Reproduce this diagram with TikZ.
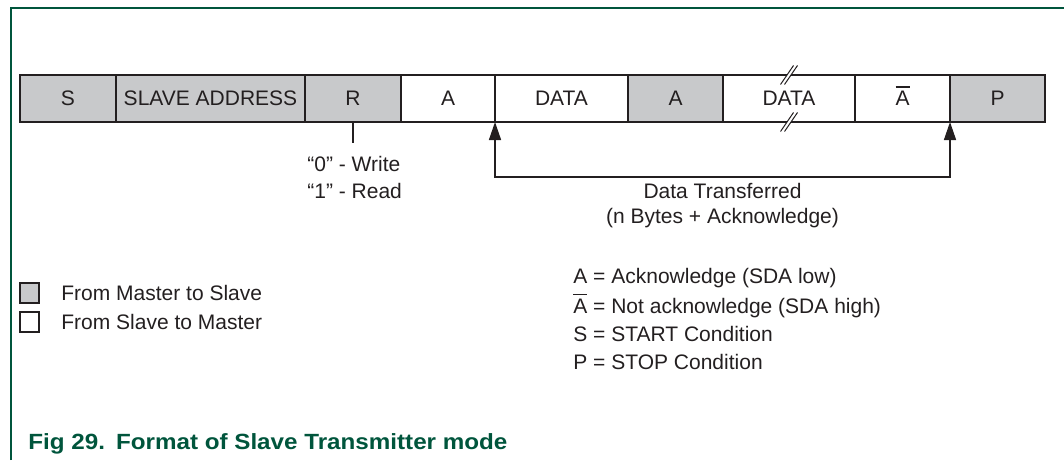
\documentclass[tikz,border=0pt]{standalone}
\usepackage{fontspec}
\setmainfont{Liberation Sans}
\newfontfamily\capfont[FakeStretch=1.1]{Liberation Sans}
\usetikzlibrary{positioning,arrows.meta}
\definecolor{ink}{RGB}{35,31,32}
\definecolor{mgray}{RGB}{200,201,203}
\definecolor{nxpgreen}{RGB}{0,85,60}
\newcommand\notA{\rlap{\smash{\rule[9pt]{7pt}{0.7pt}}}A}
\tikzset{
  txt/.style={inner sep=0pt, text=ink, font=\fontsize{10.5pt}{13pt}\selectfont},
  fld/.style={txt, draw=ink, line width=1pt, minimum height=23.5pt, outer sep=0pt},
  uptip/.style={{Triangle[width=6pt,length=9pt]}-{Triangle[width=6pt,length=9pt]}}
}

\begin{document}
\begin{tikzpicture}[x=0.5pt, y=-0.5pt]
\useasboundingbox (0,0) rectangle (1064,460);
\draw [nxpgreen, line width=0.8pt] (11,460) -- (11,8) -- (1064,8);

\node [fld, fill=mgray, minimum width=48pt] (s) at (68,98.5) {S};
\node [fld, fill=mgray, minimum width=94.5pt, right=0pt of s] (addr) {SLAVE ADDRESS};
\node [fld, fill=mgray, minimum width=48pt, right=0pt of addr] (rw) {R};
\node [fld, minimum width=47pt, right=0pt of rw] (ack1) {A};
\node [fld, minimum width=66.5pt, right=0pt of ack1] (data1) {DATA};
\node [fld, fill=mgray, minimum width=47.5pt, right=0pt of data1] (ack2) {A};
\node [fld, minimum width=66pt, right=0pt of ack2] (data2) {DATA};
\node [fld, minimum width=47.5pt, right=0pt of data2] (nack) {\notA};
\node [fld, fill=mgray, minimum width=47.5pt, right=0pt of nack] (p) {P};

\foreach \a in {north,south} {
  \draw [white, line width=1.4pt] (data2.\a) +(-6.5,8.5) -- +(6.5,-8.5);
  \draw [ink, line width=0.5pt] (data2.\a) +(-8.5,9.5) -- +(4.5,-9.5);
  \draw [ink, line width=0.5pt] (data2.\a) +(-4.5,9.5) -- +(8.5,-9.5);
}

\draw [ink, line width=0.75pt] (rw.south) -- ++(0,21);
\node [txt, anchor=base west] (wr0) at (307,171) {“0” - Write};
\node [txt, anchor=base west] (wr1) at (307,198) {“1” - Read};

\draw [uptip, ink, line width=0.75pt] (data1.south west) -- ++(0,55) -| (p.south west);
\node [txt, anchor=base] (dt0) at (722.5,198) {Data Transferred};
\node [txt, anchor=base] (dt1) at (722.5,223) {(n Bytes + Acknowledge)};

\node [fld, fill=mgray, minimum width=9.5pt, minimum height=10pt, line width=0.8pt] (km) at (29.5,293) {};
\node [fld, minimum width=9.5pt, minimum height=10pt, line width=0.8pt] (ks) at (29.5,322) {};
\node [txt, anchor=base west] (kmt) at (61,300.5) {From Master to Slave};
\node [txt, anchor=base west] (kst) at (61,329) {From Slave to Master};

\node [txt, anchor=base west] (la) at (573,283) {A = Acknowledge (SDA low)};
\node [txt, anchor=base west] (ln) at (573,313) {\notA{} = Not acknowledge (SDA high)};
\node [txt, anchor=base west] (ls) at (573,341) {S = START Condition};
\node [txt, anchor=base west] (lp) at (573,369) {P = STOP Condition};

\node [anchor=base west, inner sep=0pt, text=nxpgreen, font=\capfont\bfseries\fontsize{11pt}{13pt}\selectfont] (cap) at (28,449) {Fig 29.\hspace{5.5pt}Format of Slave Transmitter mode};
\end{tikzpicture}
\end{document}
